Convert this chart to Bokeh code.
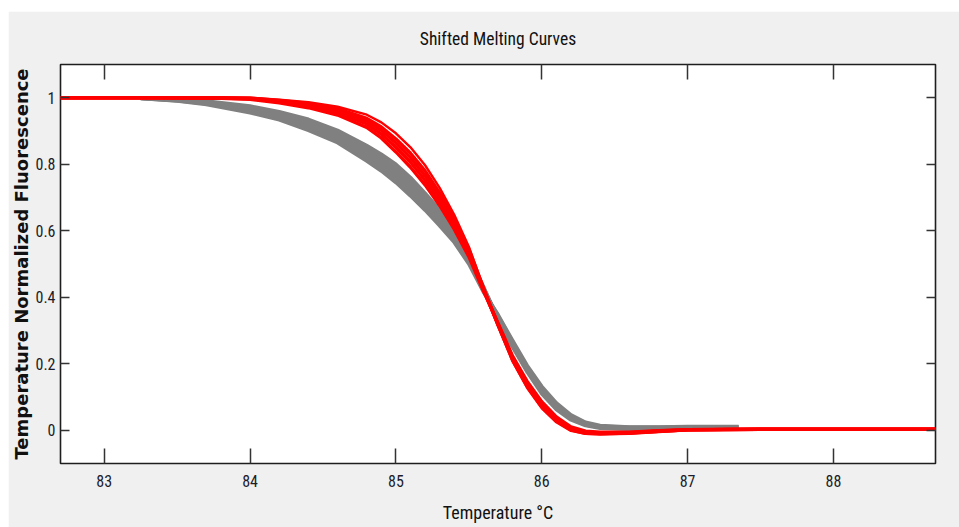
from bokeh.plotting import figure
from bokeh.models import Range1d, LinearAxis, FixedTicker, CustomJSTickFormatter, Spacer
from bokeh.layouts import column, row
from bokeh.embed import file_html
from bokeh.resources import INLINE

# ---------------- data ----------------
x_ticks = [83, 84, 85, 86, 87, 88]
y_ticks = [0, 0.2, 0.4, 0.6, 0.8, 1]

# temperature grid of the red (reference) curves
t_red = [82.7, 83.0, 83.4, 83.8, 84.0, 84.2, 84.4, 84.6, 84.8, 84.9, 85.0, 85.1, 85.2, 85.3, 85.4,
         85.5, 85.6, 85.7, 85.8, 85.9, 86.0, 86.1, 86.2, 86.3, 86.4, 86.6, 86.8, 87.0, 87.5, 88.0, 88.7]
red_outer = [1.000, 1.000, 1.000, 1.000, 1.000, 0.994, 0.987, 0.973, 0.949, 0.926, 0.893, 0.851, 0.797, 0.729, 0.648,
             0.552, 0.430, 0.314, 0.207, 0.127, 0.066, 0.024, -0.002, -0.011, -0.012, -0.010, -0.005, 0.000, 0.003, 0.003, 0.003]
red_1 = [1.000, 1.000, 1.000, 1.000, 0.999, 0.992, 0.983, 0.967, 0.938, 0.912, 0.876, 0.833, 0.780, 0.714, 0.637,
         0.545, 0.428, 0.316, 0.211, 0.132, 0.071, 0.028, 0.001, -0.009, -0.011, -0.009, -0.004, 0.001, 0.003, 0.003, 0.003]
red_2 = [1.000, 1.000, 1.000, 0.999, 0.998, 0.990, 0.979, 0.961, 0.930, 0.902, 0.864, 0.820, 0.766, 0.702, 0.627,
         0.538, 0.425, 0.318, 0.215, 0.137, 0.076, 0.032, 0.004, -0.007, -0.010, -0.008, -0.003, 0.001, 0.003, 0.003, 0.003]
red_3 = [1.000, 1.000, 1.000, 0.999, 0.997, 0.988, 0.975, 0.955, 0.921, 0.891, 0.851, 0.806, 0.752, 0.689, 0.616,
         0.530, 0.422, 0.320, 0.219, 0.142, 0.081, 0.036, 0.007, -0.005, -0.008, -0.007, -0.002, 0.002, 0.003, 0.003, 0.003]
red_4 = [1.000, 1.000, 1.000, 0.998, 0.995, 0.985, 0.970, 0.948, 0.911, 0.879, 0.837, 0.791, 0.738, 0.676, 0.605,
         0.522, 0.419, 0.322, 0.223, 0.147, 0.086, 0.040, 0.010, -0.003, -0.006, -0.006, -0.001, 0.002, 0.003, 0.003, 0.003]

# temperature grid of the grey (sample) curves
t_grey = [83.25, 83.5, 83.7, 84.0, 84.2, 84.4, 84.6, 84.8, 84.9, 85.0, 85.1, 85.2, 85.3, 85.4, 85.5,
          85.6, 85.7, 85.8, 85.9, 86.0, 86.1, 86.2, 86.3, 86.4, 86.6, 86.8, 87.0, 87.35]
grey_1 = [1.000, 0.996, 0.990, 0.975, 0.958, 0.935, 0.902, 0.856, 0.830, 0.800, 0.760, 0.713, 0.663, 0.604, 0.528,
          0.432, 0.334, 0.250, 0.175, 0.110, 0.062, 0.031, 0.014, 0.006, 0.003, 0.003]
grey_2 = [1.000, 0.995, 0.988, 0.971, 0.953, 0.928, 0.895, 0.847, 0.820, 0.789, 0.749, 0.703, 0.653, 0.596, 0.522,
          0.429, 0.337, 0.254, 0.179, 0.114, 0.066, 0.034, 0.016, 0.008, 0.004, 0.004, 0.005]
grey_3 = [0.999, 0.994, 0.986, 0.967, 0.948, 0.922, 0.887, 0.838, 0.810, 0.778, 0.738, 0.693, 0.644, 0.588, 0.517,
          0.426, 0.340, 0.258, 0.183, 0.119, 0.070, 0.037, 0.018, 0.009, 0.006, 0.006, 0.007]
grey_4 = [0.999, 0.992, 0.984, 0.963, 0.943, 0.915, 0.880, 0.828, 0.800, 0.767, 0.727, 0.682, 0.634, 0.581, 0.511,
          0.422, 0.342, 0.262, 0.187, 0.123, 0.074, 0.040, 0.020, 0.010, 0.007, 0.007, 0.008, 0.009]
grey_5 = [0.998, 0.991, 0.982, 0.959, 0.939, 0.909, 0.872, 0.819, 0.790, 0.756, 0.716, 0.672, 0.625, 0.573, 0.506,
          0.419, 0.345, 0.266, 0.191, 0.128, 0.078, 0.043, 0.022, 0.012, 0.009, 0.009, 0.010, 0.010]
grey_6 = [0.998, 0.990, 0.980, 0.955, 0.934, 0.902, 0.865, 0.810, 0.780, 0.745, 0.705, 0.662, 0.615, 0.565, 0.500,
          0.416, 0.348, 0.270, 0.195, 0.132, 0.082, 0.046, 0.024, 0.014, 0.010, 0.010, 0.011, 0.011]

# ---------------- styling ----------------
NARROW = "Roboto Condensed, DejaVu Sans Condensed, Liberation Sans Narrow, Arial Narrow, Roboto, sans-serif"
LABEL_COLOR = "#1c1c2a"

p = figure(width=951, height=516, output_backend="svg", toolbar_location=None,
           x_range=Range1d(82.7, 88.7), y_range=Range1d(-0.1, 1.1),
           min_border_left=52, min_border_right=24, min_border_top=53, min_border_bottom=64,
           background_fill_color="white", border_fill_color="#f0f0f0")

p.outline_line_color = "#1e1e1e"
p.outline_line_width = 1.6
p.xgrid.visible = False
p.ygrid.visible = False

p.title.text = "Shifted Melting Curves"
p.title.align = "center"
p.title.text_font = NARROW
p.title.text_font_size = "17.5px"
p.title.text_font_style = "normal"
p.title.text_color = "#111111"
p.title.standoff = 31

fmt = CustomJSTickFormatter(code="return String(tick);")

xa = p.xaxis[0]
xa.ticker = FixedTicker(ticks=x_ticks)
xa.formatter = fmt
xa.major_tick_in = 15
xa.major_tick_out = 0
xa.minor_tick_line_color = None
xa.axis_line_color = None
xa.major_tick_line_color = "#333333"
xa.major_tick_line_width = 1.5
xa.major_label_text_font = NARROW
xa.major_label_text_font_size = "16px"
xa.major_label_text_color = LABEL_COLOR
xa.major_label_standoff = 11
xa.axis_label = "Temperature °C"
xa.axis_label_text_font = NARROW
xa.axis_label_text_font_size = "18px"
xa.axis_label_text_font_style = "normal"
xa.axis_label_text_color = "#111111"
xa.axis_label_standoff = 12

ya = p.yaxis[0]
ya.ticker = FixedTicker(ticks=y_ticks)
ya.formatter = fmt
ya.major_tick_in = 9
ya.major_tick_out = 0
ya.minor_tick_line_color = None
ya.axis_line_color = None
ya.major_tick_line_color = "#333333"
ya.major_tick_line_width = 1.5
ya.major_label_text_font = NARROW
ya.major_label_text_font_size = "16px"
ya.major_label_text_color = LABEL_COLOR
ya.major_label_standoff = 5
ya.axis_label = "Temperature Normalized Fluorescence"
ya.axis_label_text_font = "DejaVu Sans"
ya.axis_label_text_font_size = "18px"
ya.axis_label_text_font_style = "bold"
ya.axis_label_text_color = "#111111"
ya.axis_label_standoff = 0

# box ticks on the top and right (no labels)
top = LinearAxis(ticker=FixedTicker(ticks=x_ticks), major_tick_in=15, major_tick_out=0,
                 minor_tick_line_color=None, axis_line_color=None,
                 major_tick_line_color="#333333", major_tick_line_width=1.5,
                 major_label_text_color=None, major_label_text_font_size="1px", major_label_standoff=0)
right = LinearAxis(ticker=FixedTicker(ticks=y_ticks), major_tick_in=9, major_tick_out=0,
                   minor_tick_line_color=None, axis_line_color=None,
                   major_tick_line_color="#333333", major_tick_line_width=1.5,
                   major_label_text_color=None, major_label_text_font_size="1px", major_label_standoff=0)
p.add_layout(top, "above")
p.add_layout(right, "right")

GREY = "#808080"
RED = "#ff0000"
for ys in [grey_1, grey_2, grey_3, grey_4, grey_5, grey_6]:
    p.line(t_grey[:len(ys)], ys, line_color=GREY, line_width=3.6, line_join="round")
for ys in [red_4, red_3, red_2, red_1]:
    p.line(t_red, ys, line_color=RED, line_width=3.4, line_join="round")
p.line(t_red, red_outer, line_color=RED, line_width=2.4, line_join="round")

layout = column(Spacer(width=959, height=11),
                row(Spacer(width=8, height=516), p))

open("out.html", "w").write(file_html(layout, INLINE))
